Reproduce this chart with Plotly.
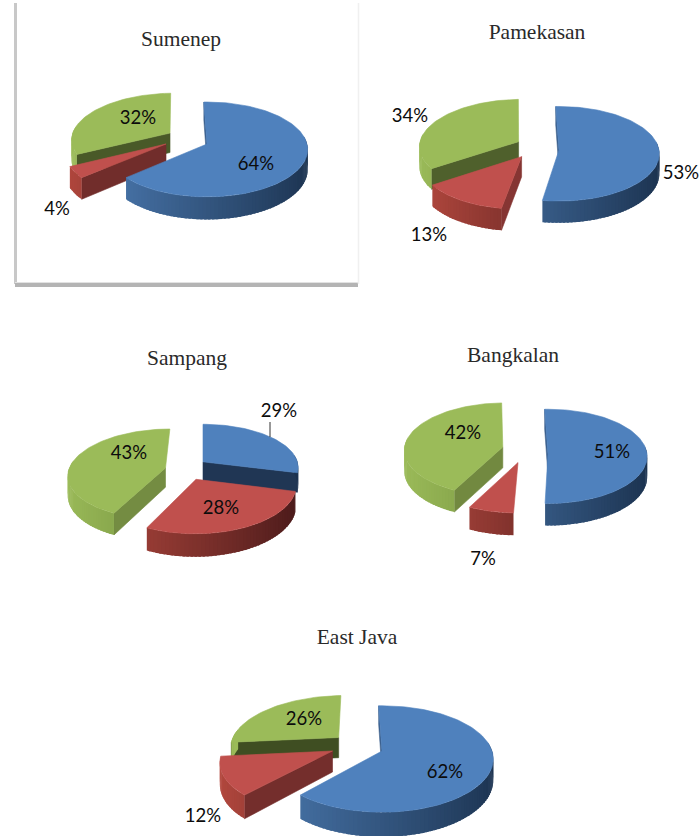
import math
import plotly.graph_objects as go

# ---- data ----
regions = ["Sumenep", "Pamekasan", "Sampang", "Bangkalan", "East Java"]
blue_values = [64, 53, 29, 51, 62]
red_values = [4, 13, 28, 7, 12]
green_values = [32, 34, 43, 42, 26]

# ---- styling / layout ----
TOP = ["#4F81BD", "#C0504D", "#9BBB59"]
SIDE_LIGHT = ["#4A78AE", "#B5493F", "#9BBB59"]
SIDE_DARK = ["#1C3350", "#4A1A1A", "#5F7A30"]
CUT_LIGHT = ["#3A5F8E", "#8A3735", "#9BBB59"]
CUT_DARK = ["#1F3552", "#682A28", "#3F4D22"]

# centre x, centre y, rx, ry, perspective, depth, first-slice angle
geometry = [
    (207, 144, 100, 46.8, 0.115, 20, -2),
    (559, 150, 100, 47, 0.08, 20, -2),
    (203, 464, 95, 43, 0.13, 19, 0),
    (548, 454, 99, 47, 0.05, 21, -2),
    (382, 751, 110, 52, 0.15, 21, -2),
]
# pull of each slice (blue, red, green) in pie radii
pulls = [
    [(0, 0), (-0.41, 0), (-0.38, -0.24)],
    [(0, 0), (-0.37, 0.14), (-0.41, -0.18)],
    [(0, -0.05), (-0.07, 0.34), (-0.39, 0.09)],
    [(0, 0), (-0.30, 0.18), (-0.46, -0.15)],
    [(0, 0), (-0.45, 0), (-0.41, -0.27)],
]
draw_order = [[2, 1, 0], [2, 1, 0], [0, 2, 1], [2, 1, 0], [2, 1, 0]]
title_pos = [(181, 41), (537, 34), (187, 360), (513, 357), (357, 639)]
label_pos = [
    [(256, 165.5), (57, 210.5), (138, 119.5)],
    [(681, 174.5), (429, 236.5), (410, 117.5)],
    [(279, 412.5), (221, 509.5), (129, 454.5)],
    [(612, 453.5), (483, 560.5), (463, 434.5)],
    [(445, 773.5), (203, 817.5), (304, 720.5)],
]


def hex_rgb(h):
    return [int(h[i:i + 2], 16) for i in (1, 3, 5)]


def mix(a, b, t):
    t = max(0.0, min(1.0, t))
    ca, cb = hex_rgb(a), hex_rgb(b)
    return "rgb(%d,%d,%d)" % tuple(round(x + (y - x) * t) for x, y in zip(ca, cb))


fig = go.Figure()


def poly(xs, ys, color, edge=0.6):
    fig.add_trace(go.Scatter(
        x=xs + xs[:1], y=ys + ys[:1], mode="lines", fill="toself",
        fillcolor=color, line=dict(color=color, width=edge),
        hoverinfo="skip", showlegend=False))


def draw_pie(idx, values):
    cx, cy, rx, ry, p, depth, start = geometry[idx]

    def project(u, v, h=0.0):
        s = 1 / (1 - p * v)
        return cx + rx * u * s, cy + ry * v * s + h * depth * s

    total = sum(values)
    bounds = []
    a = float(start)
    for val in values:
        bounds.append((a, a + val / total * 360))
        a += val / total * 360

    for k in draw_order[idx]:
        a0, a1 = bounds[k]
        du, dv = pulls[idx][k]

        def rim(deg, h=0.0):
            r = math.radians(deg)
            return project(du + math.sin(r), dv - math.cos(r), h)

        apex = project(du, dv)
        apex_b = project(du, dv, 1)

        # cut faces that look towards the viewer
        for edge, normal in ((a0, a0 - 90), (a1, a1 + 90)):
            t = -math.cos(math.radians(normal))
            if t <= 0.03:
                continue
            c = mix(CUT_LIGHT[k], CUT_DARK[k], t)
            r_top, r_bot = rim(edge), rim(edge, 1)
            poly([apex[0], r_top[0], r_bot[0], apex_b[0]],
                 [apex[1], r_top[1], r_bot[1], apex_b[1]], c)

        # outer wall, in overlapping strips that make the shading
        lo, hi = max(a0, 80.0), min(a1, 280.0)
        if hi > lo:
            n = max(2, int((hi - lo) / 2))
            step = (hi - lo) / n
            for i in range(n):
                d0 = lo + step * i
                d1 = min(hi, d0 + step * 1.6)
                t = (math.sin(math.radians(d0 + step / 2)) + 1) / 2
                c = mix(SIDE_LIGHT[k], SIDE_DARK[k], t)
                p0, p1 = rim(d0), rim(d1)
                p2, p3 = rim(d1, 1), rim(d0, 1)
                poly([p0[0], p1[0], p2[0], p3[0]], [p0[1], p1[1], p2[1], p3[1]], c, edge=0)

        # top face
        n = max(4, int((a1 - a0) / 2))
        pts = [rim(a0 + (a1 - a0) * i / n) for i in range(n + 1)]
        poly([apex[0]] + [q[0] for q in pts], [apex[1]] + [q[1] for q in pts], TOP[k])


for i in range(len(regions)):
    draw_pie(i, [blue_values[i], red_values[i], green_values[i]])

# leader line of Sampang's blue label
fig.add_trace(go.Scatter(x=[270, 270], y=[422, 437], mode="lines",
                         line=dict(color="#333333", width=1),
                         hoverinfo="skip", showlegend=False))

# percentage labels
lab_x, lab_y, lab_t = [], [], []
for i in range(len(regions)):
    vals = [blue_values[i], red_values[i], green_values[i]]
    for j in range(3):
        lab_x.append(label_pos[i][j][0])
        lab_y.append(label_pos[i][j][1])
        lab_t.append(f"{vals[j]}%")
fig.add_trace(go.Scatter(x=lab_x, y=lab_y, text=lab_t, mode="text",
                         textposition="middle center",
                         textfont=dict(family="Lato, Open Sans, sans-serif", size=18.5, color="#0c0c0c"),
                         hoverinfo="skip", showlegend=False))

# titles
fig.add_trace(go.Scatter(x=[q[0] for q in title_pos], y=[q[1] for q in title_pos],
                         text=regions, mode="text", textposition="middle center",
                         textfont=dict(family="Liberation Serif, serif", size=21.5, color="#2a2a2a"),
                         hoverinfo="skip", showlegend=False))

# frame with shadow around the first chart
frame = [
    dict(x0=15.5, x1=15.5, y0=3, y1=284, color="#c8c8c8", width=3),
    dict(x0=15, x1=358, y0=285, y1=285, color="#b4b4b4", width=4),
    dict(x0=15, x1=358, y0=282.5, y1=282.5, color="#e2e2e2", width=1),
    dict(x0=358.5, x1=358.5, y0=3, y1=284, color="#f0f0f0", width=1.5),
]
for f in frame:
    fig.add_shape(type="line", xref="x", yref="y", x0=f["x0"], x1=f["x1"], y0=f["y0"], y1=f["y1"],
                  line=dict(color=f["color"], width=f["width"]), layer="below")

fig.update_layout(
    width=700, height=836, margin=dict(l=0, r=0, t=0, b=0),
    paper_bgcolor="white", plot_bgcolor="white", showlegend=False,
    xaxis=dict(range=[0, 700], visible=False, fixedrange=True),
    yaxis=dict(range=[836, 0], visible=False, fixedrange=True),
)
fig.write_html("out.html", config=dict(displayModeBar=False),
               post_script="document.body.style.margin='0';")
